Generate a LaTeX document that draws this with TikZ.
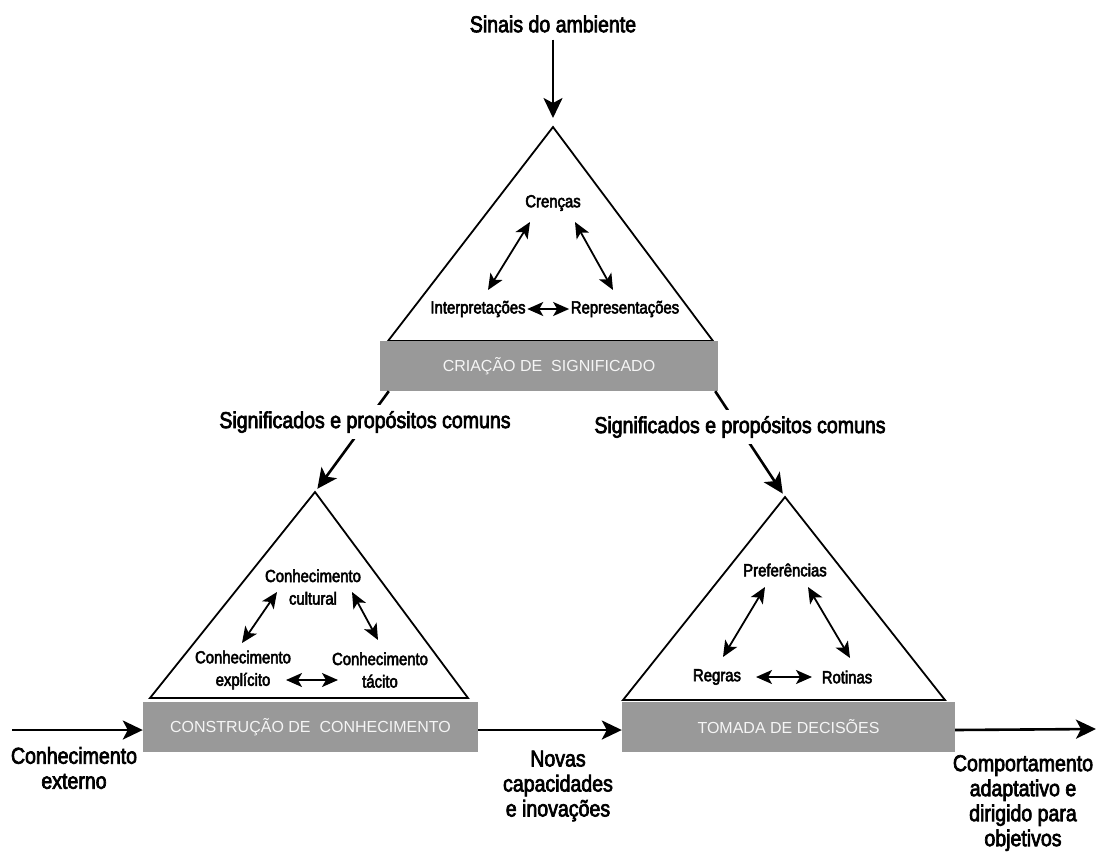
\documentclass[tikz,border=0pt]{standalone}
\usepackage{fontspec}
\setmainfont{Liberation Sans}
\newfontfamily\narrowsans{Liberation Sans}[FakeStretch=0.85, FakeBold=3]
\usetikzlibrary{arrows.meta}
\definecolor{bandgray}{RGB}{153,153,153}
\definecolor{bandtext}{RGB}{245,245,245}

\tikzset{
  tri/.style={draw=black, line width=1.8pt, line join=miter},
  band/.style={fill=bandgray, text=bandtext, inner sep=0pt,
    font=\fontsize{16}{18}\selectfont},
  outer/.style={font=\narrowsans\fontsize{23}{25}\selectfont, align=center, inner sep=1pt},
  inner/.style={font=\narrowsans\fontsize{17.5}{22.5}\selectfont, align=center, inner sep=1.5pt},
  flow/.style={line width=2.6pt, -{Stealth[length=20pt,width=19pt,inset=5pt]}},
  link/.style={line width=1.8pt,
    {Stealth[length=16pt,width=14pt,inset=4pt]}-{Stealth[length=16pt,width=14pt,inset=4pt]}},
  gap/.style={fill=white, inner ysep=6pt}
}

\begin{document}
\begin{tikzpicture}[x=1pt,y=-1pt]
\useasboundingbox[fill=white] (0,0) rectangle (1098,863);

% ---------- sense making (top) ----------
\node[outer] (sinais) at (553,24) {Sinais do ambiente};
\coordinate (apexT) at (553,127);
\draw[tri] (apexT) -- (388,341) -- (713,341) -- cycle;
\node[band, minimum width=338pt, minimum height=50pt] (criacao) at (549,366)
  {CRIAÇÃO DE\ \ SIGNIFICADO};
\draw[flow, shorten <=6pt, shorten >=9pt] (sinais.south) -- (apexT);

\node[inner] (crencas) at (553,203) {Crenças};
\node[inner] (interp) at (478,309) {Interpretações};
\node[inner] (repres) at (625,309) {Representações};
\draw[link] ([shift={(-23,19)}]crencas.center) -- ([shift={(10,-19)}]interp.center);
\draw[link] ([shift={(22,19)}]crencas.center) -- ([shift={(-12,-19)}]repres.center);
\draw[link] (interp.east) -- (repres.west);

% ---------- knowledge creation (lower left) ----------
\coordinate (apexL) at (315,492);
\draw[tri] (apexL) -- (150,698) -- (468,698) -- cycle;
\node[band, minimum width=335pt, minimum height=50pt] (construcao) at (310.5,727)
  {CONSTRUÇÃO DE\ \ CONHECIMENTO};

\node[inner] (cultural) at (313,587) {Conhecimento\\cultural};
\node[inner] (explicito) at (243,670) {Conhecimento\\explícito};
\node[inner] (tacito) at (380,670) {Conhecimento\\tácito};
\draw[link] ([shift={(-36,5)}]cultural.center) -- ([shift={(-1,-27)}]explicito.center);
\draw[link] ([shift={(39,5)}]cultural.center) -- ([shift={(-2,-30)}]tacito.center);
\draw[link] ([shift={(43,10)}]explicito.center) -- ([shift={(-42,10)}]tacito.center);

% ---------- decision making (lower right) ----------
\coordinate (apexR) at (785,497);
\draw[tri] (apexR) -- (623,700) -- (945,700) -- cycle;
\node[band, minimum width=333pt, minimum height=50pt] (tomada) at (788.5,727)
  {TOMADA DE DECISÕES};

\node[inner] (pref) at (785,570) {Preferências};
\node[inner] (regras) at (717,677) {Regras};
\node[inner] (rotinas) at (847,677) {Rotinas};
\draw[link] ([shift={(-20,17)}]pref.center) -- ([shift={(6,-20)}]regras.center);
\draw[link] ([shift={(23,17)}]pref.center) -- ([shift={(3,-19)}]rotinas.center);
\draw[link] ([shift={(39,0)}]regras.center) -- ([shift={(-35,0)}]rotinas.center);

% ---------- shared meanings ----------
\draw[flow, shorten >=4pt] ([xshift=9pt]criacao.south west) -- (apexL);
\draw[flow, shorten >=4pt] ([xshift=-3pt]criacao.south east) -- (apexR);
\node[outer, gap] (sigL) at (365,422) {Significados e propósitos comuns};
\node[outer, gap] (sigR) at (740,427) {Significados e propósitos comuns};

% ---------- inputs and outputs ----------
\coordinate (extin) at (12,730);
\coordinate (compout) at (1096,729);
\draw[flow] (extin) -- ([yshift=-3pt]construcao.west);
\draw[flow] ([yshift=-3pt]construcao.east) -- ([yshift=-3pt]tomada.west);
\draw[flow] ([yshift=-3pt]tomada.east) -- (compout);

\node[outer] (externo) at (74,768) {Conhecimento\\externo};
\node[outer] (novas) at (558,786) {Novas\\capacidades\\e inovações};
\node[outer] (comport) at (1023,803) {Comportamento\\adaptativo e\\dirigido para\\objetivos};
\end{tikzpicture}
\end{document}
